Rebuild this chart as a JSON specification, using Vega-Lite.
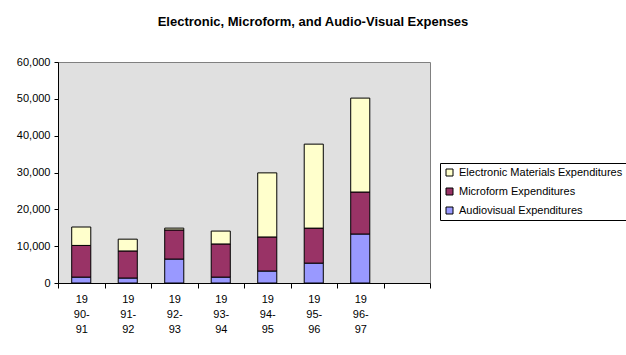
{
  "$schema": "https://vega.github.io/schema/vega-lite/v6.json",
  "autosize": {"type": "none"},
  "width": 372,
  "height": 221,
  "padding": {"left": 58, "top": 62, "right": 196, "bottom": 72},
  "background": "white",
  "config": {
    "font": "Liberation Sans",
    "view": {"fill": "#E0E0E0", "stroke": "#808080", "strokeWidth": 1}
  },
  "title": {
    "text": "Electronic, Microform, and Audio-Visual Expenses",
    "fontSize": 13,
    "fontWeight": "bold",
    "color": "black",
    "anchor": "middle",
    "dx": 69,
    "offset": 27
  },
  "data": {
    "values": [
      {"year": "1990-91", "series": "Audiovisual Expenditures", "amount": 1600},
      {"year": "1990-91", "series": "Microform Expenditures", "amount": 8600},
      {"year": "1990-91", "series": "Electronic Materials Expenditures", "amount": 5000},
      {"year": "1991-92", "series": "Audiovisual Expenditures", "amount": 1350},
      {"year": "1991-92", "series": "Microform Expenditures", "amount": 7350},
      {"year": "1991-92", "series": "Electronic Materials Expenditures", "amount": 3200},
      {"year": "1992-93", "series": "Audiovisual Expenditures", "amount": 6500},
      {"year": "1992-93", "series": "Microform Expenditures", "amount": 7900},
      {"year": "1992-93", "series": "Electronic Materials Expenditures", "amount": 500},
      {"year": "1993-94", "series": "Audiovisual Expenditures", "amount": 1600},
      {"year": "1993-94", "series": "Microform Expenditures", "amount": 9000},
      {"year": "1993-94", "series": "Electronic Materials Expenditures", "amount": 3500},
      {"year": "1994-95", "series": "Audiovisual Expenditures", "amount": 3250},
      {"year": "1994-95", "series": "Microform Expenditures", "amount": 9250},
      {"year": "1994-95", "series": "Electronic Materials Expenditures", "amount": 17400},
      {"year": "1995-96", "series": "Audiovisual Expenditures", "amount": 5400},
      {"year": "1995-96", "series": "Microform Expenditures", "amount": 9500},
      {"year": "1995-96", "series": "Electronic Materials Expenditures", "amount": 22800},
      {"year": "1996-97", "series": "Audiovisual Expenditures", "amount": 13300},
      {"year": "1996-97", "series": "Microform Expenditures", "amount": 11400},
      {"year": "1996-97", "series": "Electronic Materials Expenditures", "amount": 25500}
    ]
  },
  "transform": [
    {"calculate": "indexof(['Audiovisual Expenditures', 'Microform Expenditures', 'Electronic Materials Expenditures'], datum.series)", "as": "stackRank"}
  ],
  "mark": {"type": "bar", "stroke": "black", "strokeWidth": 1, "width": {"band": 0.41}},
  "encoding": {
    "x": {
      "field": "year",
      "type": "nominal",
      "scale": {
        "domain": ["1990-91", "1991-92", "1992-93", "1993-94", "1994-95", "1995-96", "1996-97", "none"],
        "paddingInner": 0,
        "paddingOuter": 0
      },
      "axis": {
        "title": null,
        "labelAngle": 0,
        "labelExpr": "(!isString(datum.value) || datum.value == 'none') ? '' : ['19', substring(datum.value, 2, 5), substring(datum.value, 5, 7)]",
        "labelFontSize": 11,
        "labelLineHeight": 15,
        "labelColor": "black",
        "labelBaseline": "top",
        "labelPadding": 5,
        "tickBand": "extent",
        "tickSize": 5,
        "tickColor": "black",
        "domainColor": "black",
        "grid": false
      }
    },
    "y": {
      "field": "amount",
      "type": "quantitative",
      "aggregate": "sum",
      "stack": "zero",
      "scale": {"domain": [0, 60000], "nice": false},
      "axis": {
        "title": null,
        "values": [0, 10000, 20000, 30000, 40000, 50000, 60000],
        "format": ",d",
        "labelFontSize": 11,
        "labelColor": "black",
        "labelPadding": 4,
        "tickSize": 4,
        "tickColor": "black",
        "domainColor": "black",
        "grid": false
      }
    },
    "order": {"field": "stackRank", "type": "quantitative", "sort": "ascending"},
    "color": {
      "field": "series",
      "type": "nominal",
      "scale": {
        "domain": ["Electronic Materials Expenditures", "Microform Expenditures", "Audiovisual Expenditures"],
        "range": ["#FFFFCC", "#993366", "#9999FF"]
      },
      "legend": {
        "title": null,
        "orient": "none",
        "legendX": 382,
        "legendY": 101,
        "symbolType": "square",
        "symbolSize": 49,
        "symbolStrokeColor": "black",
        "symbolStrokeWidth": 1,
        "symbolOpacity": 1,
        "labelFontSize": 11,
        "labelColor": "black",
        "labelOffset": 4,
        "labelLimit": 300,
        "rowPadding": 7,
        "padding": 4,
        "strokeColor": "black",
        "fillColor": "white"
      }
    }
  }
}
